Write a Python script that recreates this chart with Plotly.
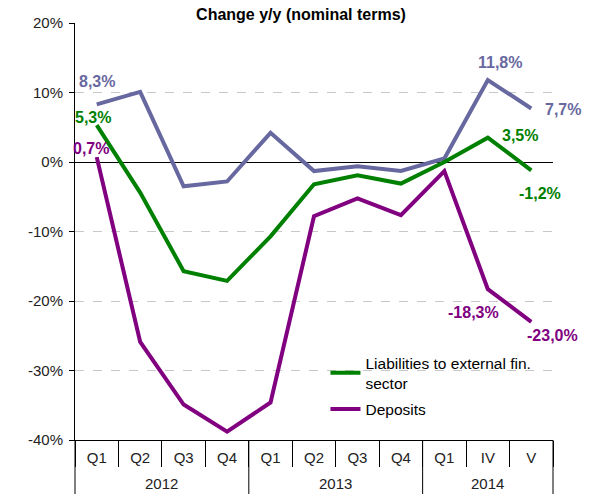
import plotly.graph_objects as go

years = ["2012", "2012", "2012", "2012", "2013", "2013", "2013", "2013", "2014", "2014", "2014"]
periods = ["Q1", "Q2", "Q3", "Q4", "Q1", "Q2", "Q3", "Q4", "Q1", "IV", "V"]

other = [8.3, 10.1, -3.5, -2.8, 4.2, -1.3, -0.6, -1.3, 0.5, 11.8, 7.7]
liabilities = [5.3, -4.4, -15.7, -17.1, -10.7, -3.2, -1.9, -3.1, 0.0, 3.5, -1.2]
deposits = [0.7, -25.9, -34.9, -38.8, -34.6, -7.8, -5.25, -7.65, -1.3, -18.3, -23.0]

y_ticks = [-40, -30, -20, -10, 0, 10, 20]
y_ticktext = ["-40%", "-30%", "-20%", "-10%", "0%", "10%", "20%"]

c_other = "#6868A0"
c_liab = "#008000"
c_dep = "#800080"
FONT = "Arial, Liberation Sans"

n = len(periods)
xs = list(range(n))

fig = go.Figure()
fig.add_trace(go.Scatter(x=xs, y=other, mode="lines",
                         line=dict(color=c_other, width=4), showlegend=False))
fig.add_trace(go.Scatter(x=xs, y=liabilities, mode="lines",
                         line=dict(color=c_liab, width=4), legendgroup="a",
                         name="Liabilities to external fin.<br>sector"))
fig.add_trace(go.Scatter(x=xs, y=deposits, mode="lines",
                         line=dict(color=c_dep, width=4), legendgroup="b",
                         name="Deposits"))

def fmt(v):
    return ("%.1f%%" % v).replace(".", ",")

# (series, color, index, xshift, yshift)
labels = [
    (other, c_other, 0, 0, 23),
    (liabilities, c_liab, 0, -4, 8),
    (deposits, c_dep, 0, -6, 9),
    (other, c_other, 9, 12, 17),
    (other, c_other, 10, 32, -1),
    (liabilities, c_liab, 9, 32, 2),
    (liabilities, c_liab, 10, 9, -23),
    (deposits, c_dep, 9, -14, -23),
    (deposits, c_dep, 10, 21, -14),
]
for ser, col, i, dx, dy in labels:
    fig.add_annotation(x=i, y=ser[i], xref="x", yref="y", text=fmt(ser[i]),
                       showarrow=False, xshift=dx, yshift=dy,
                       font=dict(family=FONT, size=16, color=col, weight="bold"))

# year group labels and full-height dividers
plot_h = 494 - 23 - 54
bottom = -54 / plot_h
groups = []
for i, yr in enumerate(years):
    if not groups or groups[-1][0] != yr:
        groups.append([yr, i, i])
    else:
        groups[-1][2] = i
bounds = sorted({g[1] - 0.5 for g in groups} | {groups[-1][2] + 0.5})
for yr, a, b in groups:
    fig.add_annotation(x=(a + b) / 2, xref="x", y=-43 / plot_h, yref="paper",
                       text=yr, showarrow=False, yanchor="middle",
                       font=dict(family=FONT, size=15, color="#222222"))
for bnd in bounds:
    xp = (bnd + 0.5) / n
    fig.add_shape(type="line", xref="paper", yref="paper", x0=xp, x1=xp,
                  y0=0, y1=bottom, line=dict(color="black", width=1))

fig.update_layout(
    width=602, height=494,
    margin=dict(l=75, r=49, t=23, b=54, autoexpand=False),
    paper_bgcolor="white", plot_bgcolor="white",
    title=dict(text="<b>Change y/y (nominal terms)</b>", x=0.5, xanchor="center",
               y=0.982, yanchor="top",
               font=dict(family=FONT, size=16, color="black")),
    font=dict(family=FONT, size=14, color="#222222"),
    legend=dict(x=0.524, y=0.225, xanchor="left", yanchor="top",
                bgcolor="rgba(0,0,0,0)", font=dict(size=15.5, color="black"),
                tracegroupgap=3),
    xaxis=dict(range=[-0.5, n - 0.5], autorange=False, showgrid=False,
               zeroline=False, showline=True, linecolor="black",
               tickvals=xs, ticktext=periods, ticks="", ticklabelstandoff=4,
               minor=dict(tick0=-0.5, dtick=1, ticks="outside", ticklen=26,
                          tickcolor="black", showgrid=False),
               tickfont=dict(size=15, color="#222222")),
    xaxis2=dict(overlaying="x", anchor="free", position=40/60, range=[-0.5, n - 0.5],
                showgrid=False, showline=False, zeroline=False,
                tickvals=[i - 0.5 for i in range(n + 1)], ticks="outside", ticklen=5,
                tickcolor="black", showticklabels=False),
    yaxis=dict(range=[-40, 20], tickvals=y_ticks, ticktext=y_ticktext, showgrid=True,
               gridcolor="#c8c8c8", griddash="dash", gridwidth=1,
               zeroline=True, zerolinecolor="black", zerolinewidth=1,
               showline=True, linecolor="black", ticks="outside", ticklen=5,
               ticklabelstandoff=3,
               tickcolor="black", tickfont=dict(size=15, color="#222222")),
)

fig.write_html("out.html", config={"displayModeBar": False},
               post_script="document.body.style.margin='0';document.body.style.padding='0';")
